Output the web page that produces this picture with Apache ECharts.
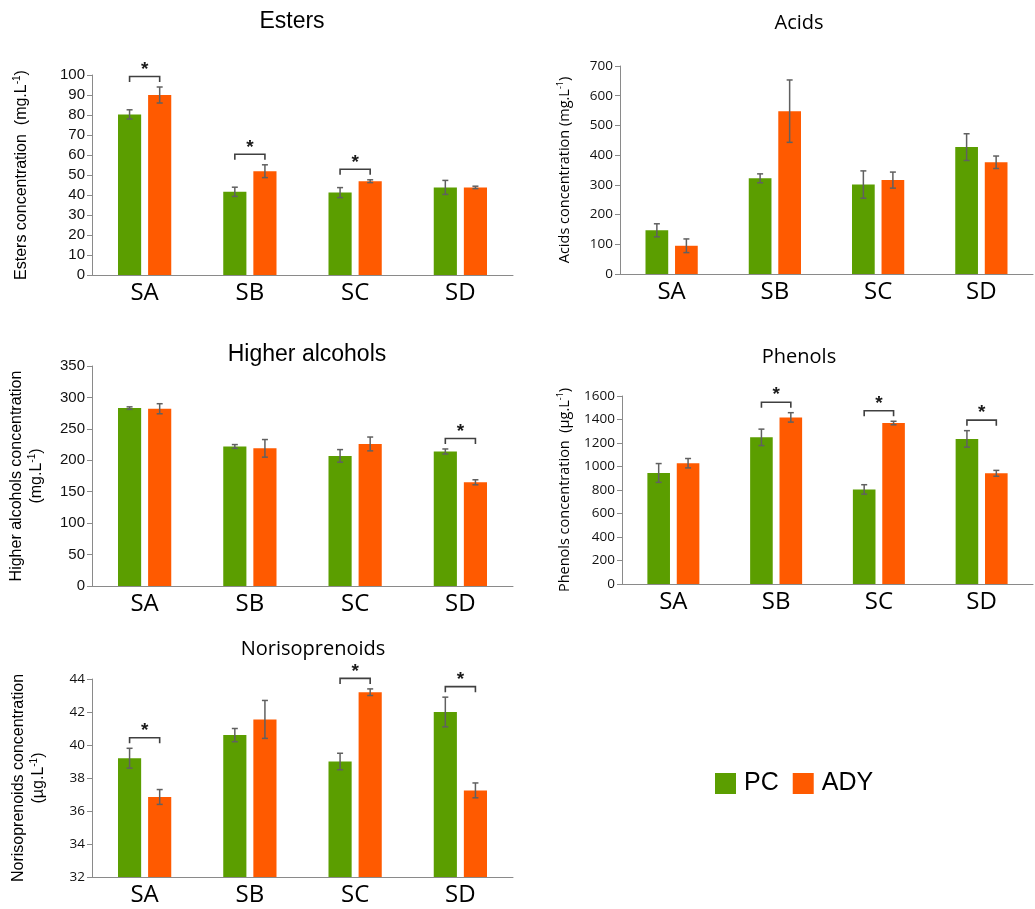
<!DOCTYPE html>
<html>
<head>
<meta charset="utf-8">
<title>Volatile compounds by strain</title>
<script src="https://cdn.jsdelivr.net/npm/echarts@6/dist/echarts.min.js"></script>
<style>
  html, body { margin: 0; padding: 0; background: #ffffff; }
  #chart { width: 1035px; height: 909px; }
</style>
</head>
<body>
<div id="chart"></div>
<script>
// ---- data ----
const categories = ['SA', 'SB', 'SC', 'SD'];
const seriesNames = ['PC', 'ADY'];

const estersPC = [80.3, 41.6, 41.2, 43.8];
const estersPCErr = [2.3, 2.3, 2.5, 3.5];
const estersADY = [90.0, 51.9, 46.9, 43.8];
const estersADYErr = [4.0, 3.2, 0.7, 0.6];
const estersSig = [1, 1, 1, 0];

const acidsPC = [147, 322, 301, 427];
const acidsPCErr = [22, 15, 46, 45];
const acidsADY = [95, 548, 316, 376];
const acidsADYErr = [23, 105, 27, 21];
const acidsSig = [0, 0, 0, 0];

const alcoholsPC = [283, 222, 207, 214];
const alcoholsPCErr = [2, 3, 10, 4];
const alcoholsADY = [282, 219, 226, 165];
const alcoholsADYErr = [8, 14, 11, 4];
const alcoholsSig = [0, 0, 0, 1];

const phenolsPC = [945, 1248, 805, 1235];
const phenolsPCErr = [80, 70, 40, 70];
const phenolsADY = [1028, 1418, 1370, 942];
const phenolsADYErr = [40, 40, 15, 25];
const phenolsSig = [0, 1, 1, 1];

const norisoPC = [39.2, 40.6, 39.0, 42.0];
const norisoPCErr = [0.6, 0.4, 0.5, 0.9];
const norisoADY = [36.85, 41.55, 43.2, 37.25];
const norisoADYErr = [0.45, 1.15, 0.2, 0.45];
const norisoSig = [1, 0, 1, 1];

// ---- styling ----
const COLORS = { PC: '#5b9e00', ADY: '#ff5a00' };
const AXIS_COLOR = '#8a8a8a';
const ERR_COLOR = '#606060';
const BRACKET_COLOR = '#404040';
const BAR_FRAC = 0.22;   // bar width as a share of the category band
const GAP_FRAC = 0.30;   // gap between the two bars as a share of bar width
const ARIAL = 'Liberation Sans, Arial, sans-serif';
const SEGOE = 'Open Sans, sans-serif';

function barOffset(band) {
  const w = band * BAR_FRAC;
  return (w + w * GAP_FRAC) / 2;
}

const panels = [
  {
    title: 'Esters', titleFont: ARIAL, titleSize: 23, titleX: 292, titleY: 22,
    grid: { left: 92, top: 75, width: 421, height: 200 },
    min: 0, max: 100, interval: 10,
    tickFont: ARIAL, tickSize: 15,
    name: 'Esters concentration  (mg.L{sup|-1})', nameFont: ARIAL, nameSize: 16, nameGap: 60,
    pc: estersPC, pcErr: estersPCErr, ady: estersADY, adyErr: estersADYErr, sig: estersSig
  },
  {
    title: 'Acids', titleFont: SEGOE, titleSize: 20, titleX: 799, titleY: 23,
    grid: { left: 620, top: 66, width: 413, height: 208 },
    min: 0, max: 700, interval: 100,
    tickFont: SEGOE, tickSize: 13.5,
    name: 'Acids concentration (mg.L{sup|-1})', nameFont: SEGOE, nameSize: 14.5, nameGap: 46,
    pc: acidsPC, pcErr: acidsPCErr, ady: acidsADY, adyErr: acidsADYErr, sig: acidsSig
  },
  {
    title: 'Higher alcohols', titleFont: ARIAL, titleSize: 23, titleX: 307, titleY: 355,
    grid: { left: 92, top: 366, width: 421, height: 220 },
    min: 0, max: 350, interval: 50,
    tickFont: ARIAL, tickSize: 15,
    name: 'Higher alcohols concentration\n(mg.L{sup|-1})', nameFont: ARIAL, nameSize: 16, nameGap: 45,
    pc: alcoholsPC, pcErr: alcoholsPCErr, ady: alcoholsADY, adyErr: alcoholsADYErr, sig: alcoholsSig
  },
  {
    title: 'Phenols', titleFont: SEGOE, titleSize: 20, titleX: 799, titleY: 357,
    grid: { left: 622, top: 396, width: 411, height: 188 },
    min: 0, max: 1600, interval: 200,
    tickFont: SEGOE, tickSize: 13.5,
    name: 'Phenols concentration  (\u00b5g.L{sup|-1})', nameFont: SEGOE, nameSize: 14.5, nameGap: 48,
    pc: phenolsPC, pcErr: phenolsPCErr, ady: phenolsADY, adyErr: phenolsADYErr, sig: phenolsSig
  },
  {
    title: 'Norisoprenoids', titleFont: SEGOE, titleSize: 20, titleX: 313, titleY: 649,
    grid: { left: 92, top: 679, width: 421, height: 198 },
    min: 32, max: 44, interval: 2,
    tickFont: SEGOE, tickSize: 13.5,
    name: 'Norisoprenoids concentration\n(\u00b5g.L{sup|-1})', nameFont: ARIAL, nameSize: 16, nameGap: 43,
    pc: norisoPC, pcErr: norisoPCErr, ady: norisoADY, adyErr: norisoADYErr, sig: norisoSig
  }
];

// error bar: data item = [categoryIndex, mean, low, high]
function errorBarRenderer(side) {
  return function (params, api) {
    const cat = api.value(0);
    const hi = api.coord([cat, api.value(3)]);
    const lo = api.coord([cat, api.value(2)]);
    const band = api.size([1, 0])[0];
    const x = hi[0] + side * barOffset(band);
    const cap = 3;
    const style = { stroke: ERR_COLOR, lineWidth: 1.5 };
    return {
      type: 'group',
      children: [
        { type: 'line', shape: { x1: x, y1: hi[1], x2: x, y2: lo[1] }, style: style },
        { type: 'line', shape: { x1: x - cap, y1: hi[1], x2: x + cap, y2: hi[1] }, style: style },
        { type: 'line', shape: { x1: x - cap, y1: lo[1], x2: x + cap, y2: lo[1] }, style: style }
      ]
    };
  };
}

// significance bracket: data item = [categoryIndex, pcTop, adyTop]
function bracketRenderer(params, api) {
  const cat = api.value(0);
  const a = api.coord([cat, api.value(1)]);
  const b = api.coord([cat, api.value(2)]);
  const band = api.size([1, 0])[0];
  const off = barOffset(band);
  const x1 = a[0] - off;
  const x2 = a[0] + off;
  const top = Math.min(a[1], b[1]) - 10.5;
  const leg = 5.5;
  const style = { stroke: BRACKET_COLOR, lineWidth: 1.6, fill: null };
  return {
    type: 'group',
    children: [
      { type: 'polyline', shape: { points: [[x1, top + leg], [x1, top], [x2, top], [x2, top + leg]] }, style: style },
      {
        type: 'text', x: (x1 + x2) / 2, y: top - 7,
        style: {
          text: '*', fill: '#1a1a1a', font: 'bold 19px ' + ARIAL,
          align: 'center', verticalAlign: 'middle', textAlign: 'center', textVerticalAlign: 'middle'
        }
      }
    ]
  };
}

const grids = [], xAxes = [], yAxes = [], series = [], graphics = [];

panels.forEach(function (p, i) {
  grids.push(p.grid);
  xAxes.push({
    type: 'category', gridIndex: i, data: categories,
    axisLine: { lineStyle: { color: AXIS_COLOR, width: 1 } },
    axisTick: { show: false },
    axisLabel: { color: '#000', fontFamily: SEGOE, fontSize: 24, margin: 6 }
  });
  yAxes.push({
    type: 'value', gridIndex: i, min: p.min, max: p.max, interval: p.interval,
    splitLine: { show: false },
    axisLine: { show: true, lineStyle: { color: AXIS_COLOR, width: 1 } },
    axisTick: { show: true, length: 5, lineStyle: { color: AXIS_COLOR } },
    axisLabel: {
      color: '#111', fontFamily: p.tickFont, fontSize: p.tickSize, margin: 7,
      formatter: function (v) { return String(v); }
    },
    name: p.name, nameLocation: 'middle', nameRotate: 90, nameGap: p.nameGap,
    nameTextStyle: {
      color: '#000', fontFamily: p.nameFont, fontSize: p.nameSize, lineHeight: p.nameSize + 4,
      align: 'center',
      rich: { sup: { fontFamily: p.nameFont, fontSize: Math.round(p.nameSize * 0.65), verticalAlign: 'top', lineHeight: 10 } }
    }
  });

  const common = { type: 'bar', xAxisIndex: i, yAxisIndex: i, barWidth: (BAR_FRAC * 100) + '%', barGap: (GAP_FRAC * 100) + '%' };
  series.push(Object.assign({ name: 'PC', data: p.pc, itemStyle: { color: COLORS.PC } }, common));
  series.push(Object.assign({ name: 'ADY', data: p.ady, itemStyle: { color: COLORS.ADY } }, common));

  const pcBars = p.pc.map(function (v, k) { return [k, v, v - p.pcErr[k], v + p.pcErr[k]]; });
  const adyBars = p.ady.map(function (v, k) { return [k, v, v - p.adyErr[k], v + p.adyErr[k]]; });
  series.push({
    type: 'custom', name: 'err-pc-' + i, xAxisIndex: i, yAxisIndex: i, z: 5, silent: true,
    renderItem: errorBarRenderer(-1), encode: { x: 0, y: [1, 2, 3] }, data: pcBars
  });
  series.push({
    type: 'custom', name: 'err-ady-' + i, xAxisIndex: i, yAxisIndex: i, z: 5, silent: true,
    renderItem: errorBarRenderer(1), encode: { x: 0, y: [1, 2, 3] }, data: adyBars
  });

  const brackets = [];
  p.sig.forEach(function (s, k) {
    if (s) brackets.push([k, p.pc[k] + p.pcErr[k], p.ady[k] + p.adyErr[k]]);
  });
  if (brackets.length) {
    series.push({
      type: 'custom', name: 'sig-' + i, xAxisIndex: i, yAxisIndex: i, z: 6, silent: true, clip: false,
      renderItem: bracketRenderer, encode: { x: 0, y: [1, 2] }, data: brackets
    });
  }

  graphics.push({
    type: 'text', x: p.titleX, y: p.titleY,
    style: {
      text: p.title, fill: '#000', font: p.titleSize + 'px ' + p.titleFont,
      align: 'center', verticalAlign: 'middle', textAlign: 'center', textVerticalAlign: 'middle'
    }
  });
});

const chart = echarts.init(document.getElementById('chart'), null, { renderer: 'canvas' });
chart.setOption({
  animation: false,
  backgroundColor: '#ffffff',
  grid: grids,
  xAxis: xAxes,
  yAxis: yAxes,
  series: series,
  graphic: graphics,
  legend: {
    data: seriesNames,
    left: 710, top: 766,
    icon: 'rect', itemWidth: 21, itemHeight: 21, itemGap: 14,
    textStyle: { color: '#000', fontFamily: ARIAL, fontSize: 25, padding: [0, 0, 0, 3] }
  }
});
</script>
</body>
</html>
